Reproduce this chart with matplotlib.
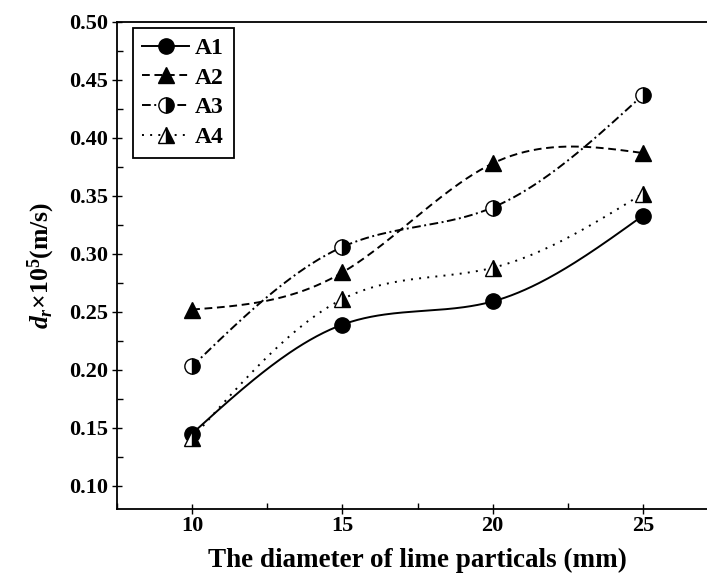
import numpy as np
import matplotlib
matplotlib.use("Agg")
import matplotlib.pyplot as plt
from matplotlib.ticker import MultipleLocator, FormatStrFormatter

plt.rcParams['font.family'] = ['Liberation Serif', 'DejaVu Serif']
plt.rcParams['font.weight'] = 'bold'
plt.rcParams['mathtext.fontset'] = 'custom'
plt.rcParams['mathtext.rm'] = 'Liberation Serif:bold'
plt.rcParams['mathtext.it'] = 'Liberation Serif:italic:bold'
plt.rcParams['mathtext.bf'] = 'Liberation Serif:bold'

# data
diameter = [10, 15, 20, 25]
a1 = [0.145, 0.239, 0.259, 0.333]
a2 = [0.252, 0.284, 0.378, 0.387]
a3 = [0.203, 0.306, 0.340, 0.437]
a4 = [0.141, 0.261, 0.288, 0.352]
labels = ['A1', 'A2', 'A3', 'A4']


def natural_spline(x, y, n=200):
    """natural cubic spline through the points (like Origin's spline line)"""
    x = np.asarray(x, float)
    y = np.asarray(y, float)
    k = len(x)
    h = np.diff(x)
    A = np.zeros((k, k))
    b = np.zeros(k)
    A[0, 0] = A[-1, -1] = 1
    for i in range(1, k - 1):
        A[i, i - 1] = h[i - 1]
        A[i, i] = 2 * (h[i - 1] + h[i])
        A[i, i + 1] = h[i]
        b[i] = 6 * ((y[i + 1] - y[i]) / h[i] - (y[i] - y[i - 1]) / h[i - 1])
    M = np.linalg.solve(A, b)
    xs = np.linspace(x[0], x[-1], n)
    idx = np.clip(np.searchsorted(x, xs) - 1, 0, k - 2)
    x0, x1 = x[idx], x[idx + 1]
    hh = x1 - x0
    ys = (M[idx] * (x1 - xs) ** 3 / (6 * hh) + M[idx + 1] * (xs - x0) ** 3 / (6 * hh)
          + (y[idx] / hh - M[idx] * hh / 6) * (x1 - xs)
          + (y[idx + 1] / hh - M[idx + 1] * hh / 6) * (xs - x0))
    return xs, ys


fig = plt.figure(figsize=(7.07, 5.78), dpi=100)
# axes run past the right edge of the picture, as in the reference crop
ax = fig.add_axes([117 / 707, 69 / 578, 601 / 707, 487 / 578])

styles = [
    dict(ls='-', marker='o', fillstyle='full'),
    dict(ls=(0, (4, 2.4)), marker='^', fillstyle='full'),
    dict(ls=(0, (4.5, 1.8, 1, 1.8)), marker='o', fillstyle='right'),
    dict(ls=(0, (1, 3.2)), marker='^', fillstyle='right'),
]
lw = 1.4
mk = dict(ms=11, mfc='black', mfcalt='white', mec='black', mew=1.0)

for ys_data, lab, st in zip([a1, a2, a3, a4], labels, styles):
    xs, ys = natural_spline(diameter, ys_data)
    ax.plot(xs, ys, color='black', lw=lw, ls=st['ls'])
    ax.plot(diameter, ys_data, ls='none', marker=st['marker'],
            fillstyle=st['fillstyle'], **mk)
    ax.plot([], [], color='black', lw=lw, ls=st['ls'], marker=st['marker'],
            fillstyle=st['fillstyle'], label=lab, **mk)

ax.set_xlim(7.5, 27.5)
ax.set_ylim(0.08, 0.50)
ax.set_xticks([10, 15, 20, 25])
ax.xaxis.set_minor_locator(MultipleLocator(2.5))
ax.set_yticks(np.arange(0.10, 0.501, 0.05))
ax.yaxis.set_minor_locator(MultipleLocator(0.025))
ax.yaxis.set_major_formatter(FormatStrFormatter('%.2f'))
ax.tick_params(which='major', direction='inout', length=7.5, width=1.0, labelsize=16)
ax.tick_params(which='minor', direction='in', length=4, width=1.0)
ax.tick_params(axis='x', which='major', pad=1)
ax.tick_params(axis='y', which='major', pad=2.5)
for sp in ax.spines.values():
    sp.set_linewidth(1.3)
for t in ax.get_xticklabels() + ax.get_yticklabels():
    t.set_fontweight('bold')

ax.set_xlabel('The diameter of lime particals (mm)', fontsize=19.5, fontweight='bold', labelpad=9)
ax.set_ylabel(r'$d_r$×10$^5$(m/s)', fontsize=18.5, fontweight='bold', labelpad=9)

leg = ax.legend(loc='upper left', bbox_to_anchor=(0.026, 0.988), borderaxespad=0,
                handlelength=2.0, handletextpad=0.25, borderpad=0.4, labelspacing=0.35,
                prop={'weight': 'bold', 'size': 17}, frameon=True, fancybox=False)
leg.get_frame().set_edgecolor('black')
leg.get_frame().set_linewidth(1.3)
leg.get_frame().set_alpha(1)

fig.savefig('out.png', dpi=100)
